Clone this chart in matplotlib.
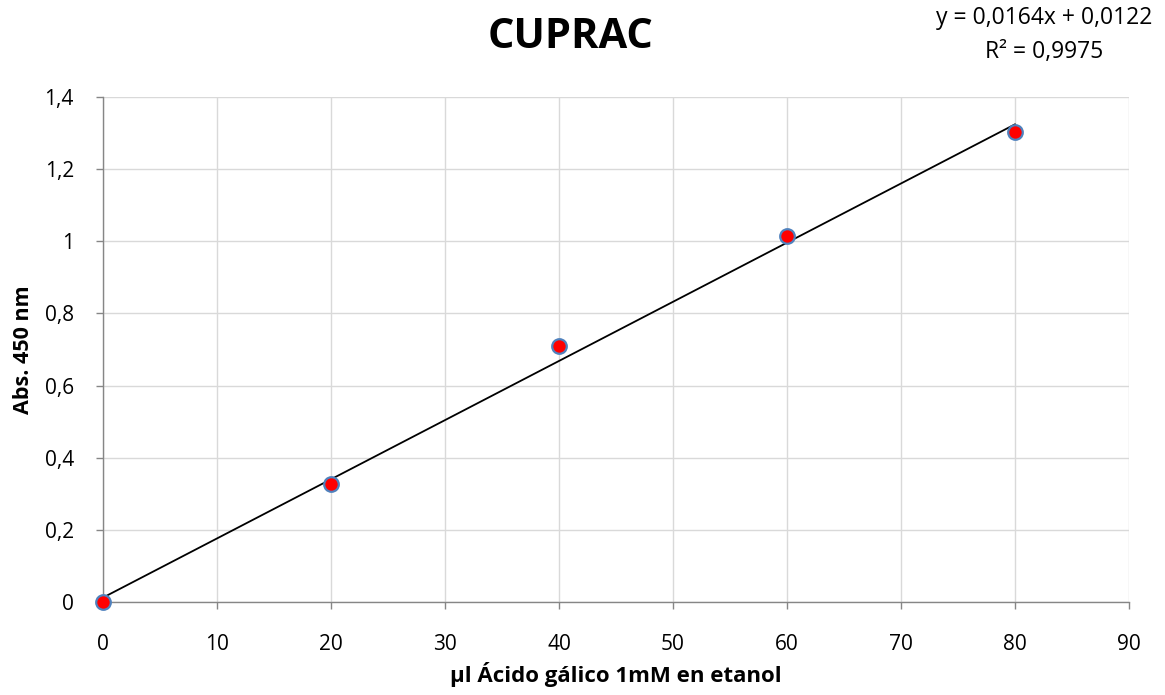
import matplotlib
matplotlib.use("Agg")
import matplotlib.pyplot as plt
import numpy as np

# Calibration data
volumen_ul = [0, 20, 40, 60, 80]
absorbancia = [0.0, 0.327, 0.709, 1.015, 1.302]

# Linear trendline coefficients
pendiente = 0.0164
intercepto = 0.0122
r2 = 0.9975

x_ticks = [0, 10, 20, 30, 40, 50, 60, 70, 80, 90]
y_ticks = [0, 0.2, 0.4, 0.6, 0.8, 1.0, 1.2, 1.4]
y_labels = ["0", "0,2", "0,4", "0,6", "0,8", "1", "1,2", "1,4"]

plt.rcParams["font.family"] = ["Open Sans", "DejaVu Sans"]

fig = plt.figure(figsize=(11.65, 6.95), dpi=100)
ax = fig.add_axes([0.0884, 0.1338, 0.969 - 0.0884, 0.8604 - 0.1338])

ax.set_xlim(0, 90)
ax.set_ylim(0, 1.4)
ax.set_xticks(x_ticks)
ax.set_xticklabels([str(t) for t in x_ticks], fontsize=15)
ax.set_yticks(y_ticks)
ax.set_yticklabels(y_labels, fontsize=15)

ax.grid(True, color="#d9d9d9", linewidth=1.0)
ax.set_axisbelow(True)
for side in ("top", "right"):
    ax.spines[side].set_visible(False)
for side in ("left", "bottom"):
    ax.spines[side].set_color("#868686")
    ax.spines[side].set_linewidth(1.0)
ax.tick_params(axis="y", color="#868686", length=5, width=1.0, pad=16)
ax.tick_params(axis="x", color="#868686", length=5, width=1.0, pad=18)

# Trendline
xl = np.array([volumen_ul[0], volumen_ul[-1]])
ax.plot(xl, pendiente * xl + intercepto, color="black", linewidth=1.3, zorder=3)

# Measured points
ax.plot(volumen_ul, absorbancia, linestyle="none", marker="o", markersize=10.5,
        markerfacecolor="#ff0000", markeredgecolor="#4f81bd", markeredgewidth=1.6,
        zorder=4, clip_on=False)

ax.set_xlabel("µl Ácido gálico 1mM en etanol", fontsize=16, fontweight="bold")
ax.xaxis.set_label_coords(0.5, -0.118)
ax.set_ylabel("Abs. 450 nm", fontsize=15.5, fontweight="bold")
ax.yaxis.set_label_coords(-0.067, 0.499)

fig.text(0.490, 0.946, "CUPRAC", ha="center", va="center", fontsize=30, fontweight="bold")

eq = f"y = {pendiente:.4f}x + {intercepto:.4f}".replace(".", ",")
rr = f"R² = {r2:.4f}".replace(".", ",")
fig.text(0.896, 0.974, eq, ha="center", va="center", fontsize=16.5)
fig.text(0.896, 0.925, rr, ha="center", va="center", fontsize=16.5)

fig.savefig("out.png", dpi=100, facecolor="white")
